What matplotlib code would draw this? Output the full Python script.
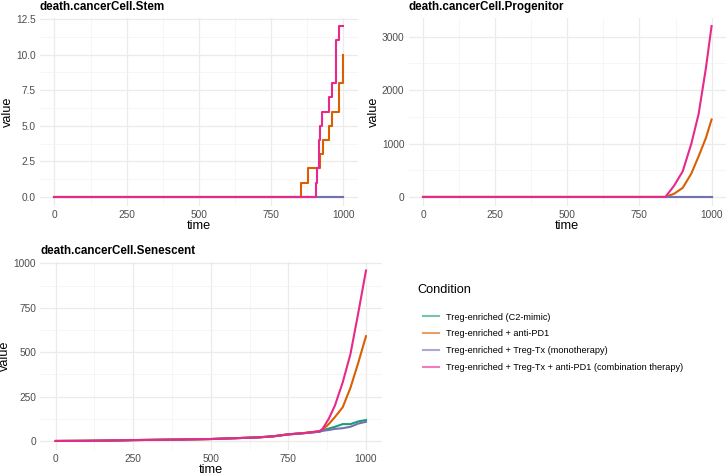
import matplotlib
matplotlib.use("Agg")
import matplotlib.pyplot as plt
from matplotlib.ticker import AutoMinorLocator, FormatStrFormatter
import numpy as np

plt.rcParams['font.family'] = ['Liberation Sans', 'DejaVu Sans']

conditions = [
    "Treg-enriched (C2-mimic)",
    "Treg-enriched + anti-PD1",
    "Treg-enriched + Treg-Tx (monotherapy)",
    "Treg-enriched + Treg-Tx + anti-PD1 (combination therapy)",
]
colors = ["#1B9E77", "#D95F02", "#7570B3", "#E7298A"]

# ---- Stem (step data) ----
stem_t_zero = [0, 1000]
stem_v_zero = [0, 0]
stem_t_antipd1 = [0, 855, 876, 918, 930, 950, 959, 984, 999]
stem_v_antipd1 = [0, 1, 2, 3, 4, 5, 6, 8, 10]
stem_t_combo = [0, 904, 910, 914, 918, 926, 950, 960, 976, 984, 1000]
stem_v_combo = [0, 1, 2, 4, 5, 6, 7, 8, 11, 12, 12]

# ---- Progenitor ----
prog_t_zero = [0, 1000]
prog_v_zero = [0, 0]
prog_t = [0, 840, 870, 900, 930, 955, 980, 1000]
prog_v_antipd1 = [0, 0, 60, 170, 440, 760, 1100, 1450]
prog_v_combo = [0, 0, 210, 480, 1000, 1550, 2400, 3200]

# ---- Senescent ----
sen_t = [0, 100, 200, 250, 300, 400, 500, 600, 650, 700, 750, 800, 850, 860,
         880, 900, 925, 950, 975, 1000]
sen_v_c2 = [0, 1, 3, 5, 6, 8, 11, 17, 20, 26, 37, 44, 52, 60, 70, 80, 95, 95, 110, 118]
sen_v_antipd1 = [0, 1, 3, 5, 6, 8, 11, 17, 20, 26, 38, 45, 55, 64, 95, 135, 190, 300, 440, 590]
sen_v_mono = [0, 1, 3, 5, 6, 8, 11, 17, 20, 26, 37, 44, 52, 57, 62, 68, 72, 80, 98, 108]
sen_v_combo = [0, 1, 3, 5, 6, 8, 11, 17, 20, 26, 37, 44, 55, 68, 125, 200, 330, 490, 720, 960]

W, H = 728, 476
fig = plt.figure(figsize=(W / 100, H / 100), dpi=100)

def ax_px(l, t, r, b):
    return fig.add_axes([l / W, 1 - b / H, (r - l) / W, (b - t) / H])

ax1 = ax_px(40, 17.5, 357.8, 205.5)
ax2 = ax_px(408.6, 17.5, 726, 205.5)
ax3 = ax_px(40.2, 262, 381.5, 449.5)

lw = 1.5
ax1.plot(stem_t_zero, stem_v_zero, color=colors[0], lw=lw, drawstyle='steps-post')
ax1.plot(stem_t_antipd1, stem_v_antipd1, color=colors[1], lw=lw, drawstyle='steps-post')
ax1.plot(stem_t_zero, stem_v_zero, color=colors[2], lw=lw, drawstyle='steps-post')
ax1.plot(stem_t_combo, stem_v_combo, color=colors[3], lw=lw, drawstyle='steps-post')

ax2.plot(prog_t_zero, prog_v_zero, color=colors[0], lw=lw)
ax2.plot(prog_t, prog_v_antipd1, color=colors[1], lw=lw)
ax2.plot(prog_t_zero, prog_v_zero, color=colors[2], lw=lw)
ax2.plot(prog_t, prog_v_combo, color=colors[3], lw=lw)

handles = []
for vals, c in zip([sen_v_c2, sen_v_antipd1, sen_v_mono, sen_v_combo], colors):
    h, = ax3.plot(sen_t, vals, color=c, lw=lw)
    handles.append(h)

titles = ["death.cancerCell.Stem", "death.cancerCell.Progenitor", "death.cancerCell.Senescent"]
yticks = [np.arange(0, 12.6, 2.5), [0, 1000, 2000, 3000], [0, 250, 500, 750, 1000]]
for ax, title, yt in zip([ax1, ax2, ax3], titles, yticks):
    ax.margins(x=0.05, y=0.05)
    ax.set_xticks([0, 250, 500, 750, 1000])
    ax.set_yticks(yt)
    ax.xaxis.set_minor_locator(AutoMinorLocator(2))
    ax.yaxis.set_minor_locator(AutoMinorLocator(2))
    ax.grid(which='major', color='#EBEBEB', lw=0.9)
    ax.grid(which='minor', color='#F3F3F3', lw=0.5)
    ax.set_axisbelow(True)
    for s in ax.spines.values():
        s.set_visible(False)
    ax.tick_params(which='both', length=0, labelsize=7.3, labelcolor='#4D4D4D', pad=3)
    ax.set_xlabel("time", fontsize=9.2, labelpad=0.5)
    ax.set_ylabel("value", fontsize=9.2, labelpad=1.5)
    ax.set_title(title, fontsize=8.4, fontweight='bold', loc='left', pad=5.5)
ax1.yaxis.set_major_formatter(FormatStrFormatter('%.1f'))

fig.text(417 / W, 1 - 290 / H, "Condition", fontsize=9.2, ha='left', va='center')
leg = fig.legend(handles, conditions, loc='upper left',
                 bbox_to_anchor=(423 / W, 1 - 312.5 / H), frameon=False,
                 borderpad=0, borderaxespad=0,
                 fontsize=6.6, handlelength=1.75, handletextpad=0.76,
                 labelspacing=0.86)
for lh in leg.get_lines():
    lh.set_alpha(0.6)
    lh.set_linewidth(1.5)

fig.savefig("out.png", dpi=100, facecolor='white')
